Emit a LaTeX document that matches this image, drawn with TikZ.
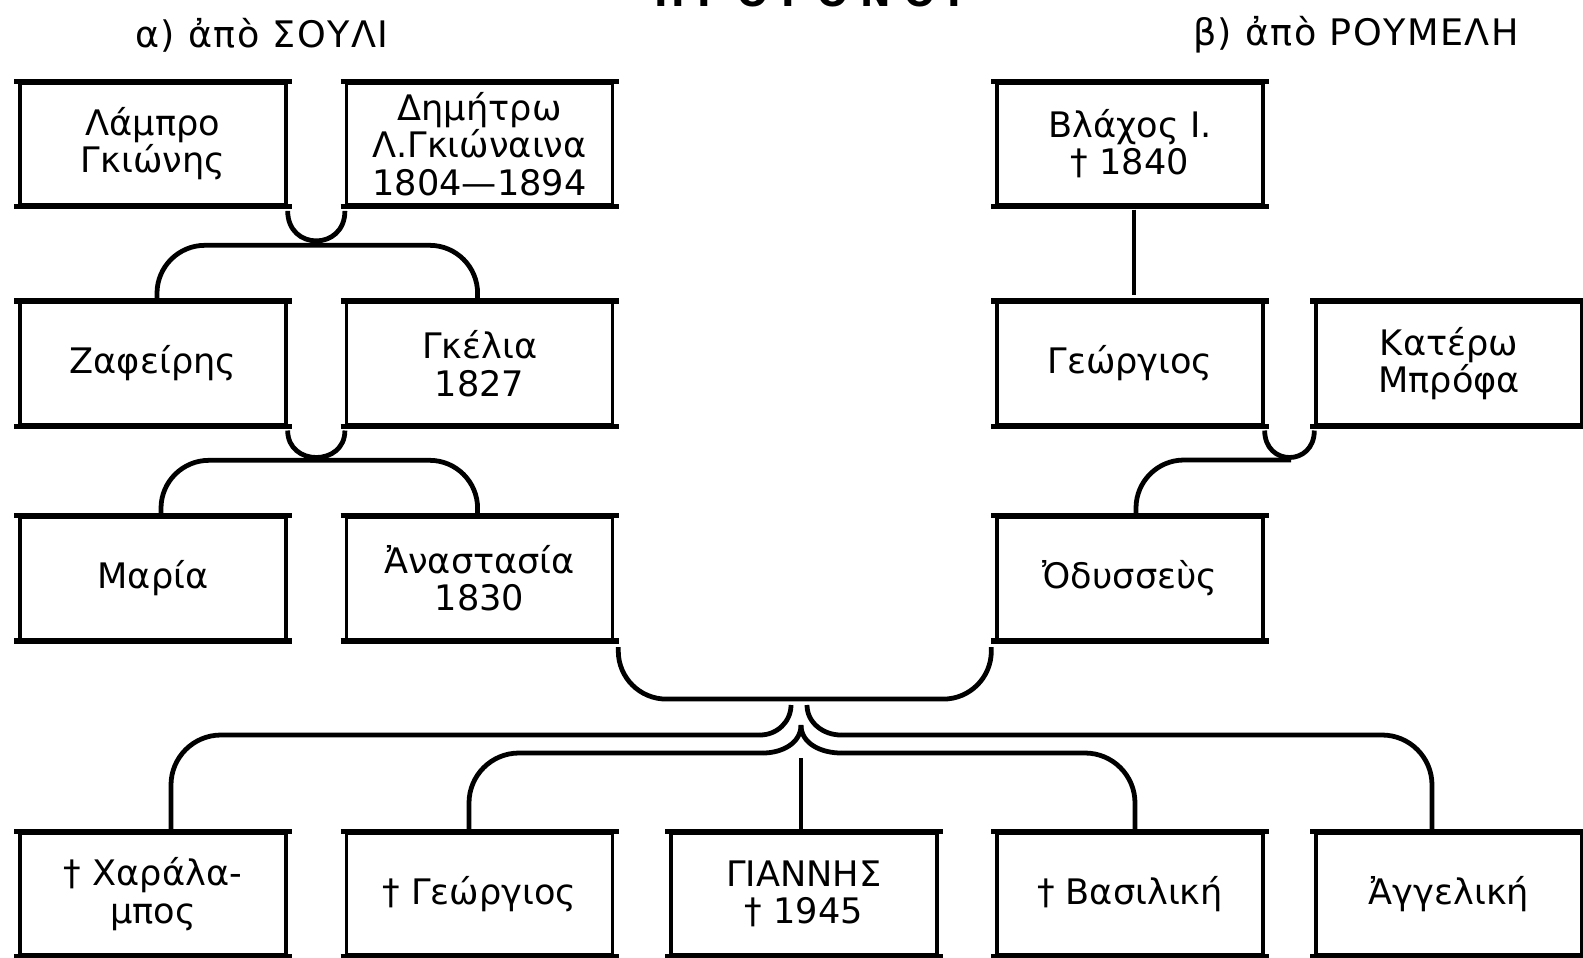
\documentclass[tikz,border=0pt]{standalone}
\usepackage{fontspec}
\setmainfont{DejaVu Sans}
\usepackage{tikz}
\usetikzlibrary{positioning}

\tikzset{
	person/.style={draw, line width=2.4pt, minimum width=6.65cm, minimum height=3.05cm, inner sep=0pt, align=center,
		font=\fontsize{25}{26.5}\selectfont,
		append after command={([xshift=-3pt]\tikzlastnode.north west) edge[line width=3.8pt] ([xshift=3pt]\tikzlastnode.north east)
			([xshift=-3pt]\tikzlastnode.south west) edge[line width=3.8pt] ([xshift=3pt]\tikzlastnode.south east)}},
	link/.style={line width=3.4pt},
	thinlink/.style={line width=2.2pt},
	origin/.style={font=\fontsize{26}{28}\selectfont\addfontfeature{LetterSpace=4}}
}

\begin{document}
\begin{tikzpicture}
	\useasboundingbox (0,0) rectangle (39.575,-23.925);

	% titles
	\node[font=\fontsize{26}{30}\selectfont\bfseries, anchor=base] (title) at (20.2,-0.15) {Π Ρ Ο Γ Ο Ν Ο Ι};
	\node[origin] (souli) at (6.55,-0.875) {α) ἀπὸ ΣΟΥΛΙ};
	\node[origin] (roumeli) at (33.9,-0.875) {β) ἀπὸ ΡΟΥΜΕΛΗ};

	% a) Souli
	\node[person] (lampro) at (3.825,-3.6) {Λάμπρο\\Γκιώνης};
	\node[person] (dimitro) at (11.99,-3.6) {Δημήτρω\\Λ.Γκιώναινα\\1804---1894};
	\node[person] (zafeiris) at (3.825,-9.09) {Ζαφείρης};
	\node[person] (gkelia) at (11.99,-9.09) {Γκέλια\\1827};
	\node[person] (maria) at (3.825,-14.46) {Μαρία};
	\node[person] (anastasia) at (11.99,-14.46) {Ἀναστασία\\1830};

	% b) Roumeli
	\node[person] (vlachos) at (28.25,-3.6) {Βλάχος Ι.\\† 1840};
	\node[person] (georgios) at (28.25,-9.09) {Γεώργιος};
	\node[person] (katero) at (36.225,-9.09) {Κατέρω\\Μπρόφα};
	\node[person] (odysseas) at (28.25,-14.46) {Ὀδυσσεὺς};

	% children
	\node[person] (charalampos) at (3.825,-22.35) {† Χαράλα-\\μπος};
	\node[person] (georgios2) at (11.99,-22.35) {† Γεώργιος};
	\node[person] (giannis) at (20.1,-22.35) {ΓΙΑΝΝΗΣ\\† 1945};
	\node[person] (vasiliki) at (28.25,-22.35) {† Βασιλική};
	\node[person] (aggeliki) at (36.225,-22.35) {Ἀγγελική};

	\coordinate (m3) at (32.275,-11.5);
	\coordinate (o1) at (19.0,-18.375);
	\coordinate (o2) at (21.025,-18.375);
	\coordinate (tipO1) at (19.775,-17.625);
	\coordinate (tipO2) at (20.175,-17.625);
	\coordinate (i1) at (19.075,-18.825);
	\coordinate (i2) at (21.025,-18.825);
	\coordinate (tipI) at (20.025,-18.125);
	\coordinate (vtop) at (20.025,-18.95);

	% marriages
	\draw[link] ([yshift=-3pt]lampro.south east) .. controls +(0,-1.0) and +(0,-1.0) .. ([yshift=-3pt]dimitro.south west);
	\draw[link] ([yshift=-3pt]zafeiris.south east) .. controls +(0,-0.9) and +(0,-0.9) .. ([yshift=-3pt]gkelia.south west);
	\draw[link] ([yshift=-3pt]georgios.south east) .. controls +(0,-0.9) and +(0,-0.9) .. ([yshift=-3pt]katero.south west);
	\draw[link, rounded corners=1.2cm] ([xshift=0.1cm, yshift=-0.15cm]anastasia.south east) -- ++(0,-1.3) -| ([xshift=-0.1cm, yshift=-0.15cm]odysseas.south west);

	% descent
	\draw[link, rounded corners=1.2cm] ([xshift=0.1cm]zafeiris.north) -- ++(0,1.39) -| ([xshift=-0.05cm]gkelia.north);
	\draw[link, rounded corners=1.2cm] ([xshift=0.2cm]maria.north) -- ++(0,1.385) -| ([xshift=-0.05cm]anastasia.north);
	\draw[thinlink, shorten <=2pt, shorten >=4pt] ([xshift=0.1cm]vlachos.south) -- ([xshift=0.1cm]georgios.north);
	\draw[link, rounded corners=1.2cm] (m3) -| ([xshift=0.15cm]odysseas.north);

	\draw[link, rounded corners=1.25cm] ([xshift=0.45cm]charalampos.north) |- (o1);
	\draw[link, rounded corners=1.25cm] ([xshift=-0.425cm]aggeliki.north) |- (o2);
	\draw[link, rounded corners=1.25cm] ([xshift=-0.265cm]georgios2.north) |- (i1);
	\draw[link, rounded corners=1.25cm] ([xshift=0.125cm]vasiliki.north) |- (i2);
	\draw[link] (o1) to[out=0, in=-90] (tipO1);
	\draw[link] (o2) to[out=180, in=-90] (tipO2);
	\draw[link] (i1) to[out=0, in=-90] (tipI);
	\draw[link] (i2) to[out=180, in=-90] (tipI);
	\draw[thinlink] (vtop) -- (vtop |- giannis.north);
\end{tikzpicture}
\end{document}
